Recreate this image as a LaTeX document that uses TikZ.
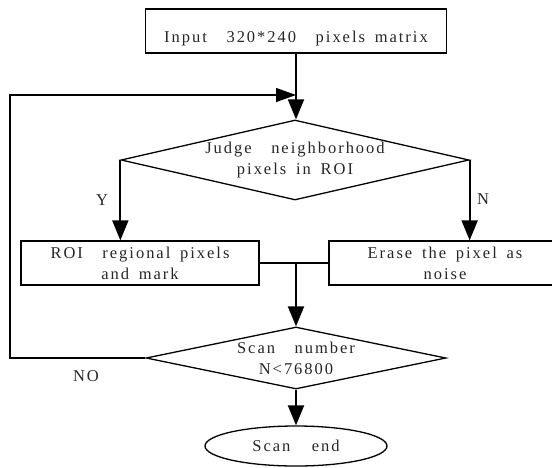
\documentclass[tikz,border=0pt]{standalone}
\usepackage{fontspec}
\setmainfont{Liberation Serif}[LetterSpace=12,WordSpace=1.6]
\usetikzlibrary{shapes.geometric,arrows.meta}
\begin{document}
\begin{tikzpicture}[x=1pt,y=-1pt,
  every node/.style={font=\fontsize{16.5}{21}\selectfont, text=black!85},
  box/.style={draw=black, line width=1.3pt, rectangle, inner sep=0pt, align=center},
  dia/.style={draw=black, line width=1.3pt, diamond, inner sep=0pt, align=center},
  flow/.style={line width=2pt, -{Triangle[length=20pt,width=16pt]}},
  plain/.style={line width=1.3pt},
  lbl/.style={inner sep=0pt}]
\useasboundingbox (0,0) rectangle (552,467);
\clip (0,0) rectangle (552,467);
% nodes
\node[box, minimum width=301pt, minimum height=44pt, text height=22pt, text depth=0pt] (in) at (296,31) {Input\ \ 320*240\ \ pixels matrix};
\node[dia, minimum width=348pt, minimum height=80pt, aspect=4.35] (d1) at (295,160) {Judge\ \ neighborhood\\pixels in ROI};
\node[box, minimum width=238pt, minimum height=44pt] (lb) at (140,263) {ROI\ \ regional pixels\\and mark};
\node[box, minimum width=232pt, minimum height=44pt] (rb) at (445,263) {Erase the pixel as\\noise};
\node[dia, minimum width=300pt, minimum height=62pt, aspect=4.84] (d2) at (296,358) {Scan\ \ number\\N<76800};
\node[draw=black, line width=1.3pt, ellipse, minimum width=182pt, minimum height=40pt, inner sep=0pt] (end) at (296,446) {Scan\hspace{1.3em}end};
\node[lbl] (y) at (102,200) {Y};
\node[lbl] (n) at (483,199) {N};
\node[lbl] (no) at (86,376) {NO};
% connectors
\coordinate (j) at (296,95);
\coordinate (m) at (296,263);
\draw[flow] (in.south) -- (in.south |- d1.north);
\draw[plain, -{Triangle[length=20pt,width=14pt]}] (d2.west) -- (10,358) |- (j);
\draw[flow] (d1.west) -- (d1.west |- lb.north);
\draw[flow] (d1.east) -- (d1.east |- rb.north);
\draw[plain] (lb.east) -- (rb.west);
\draw[flow] (m) -- (d2.north);
\draw[flow] (d2.south) -- (end.north);
\end{tikzpicture}
\end{document}
